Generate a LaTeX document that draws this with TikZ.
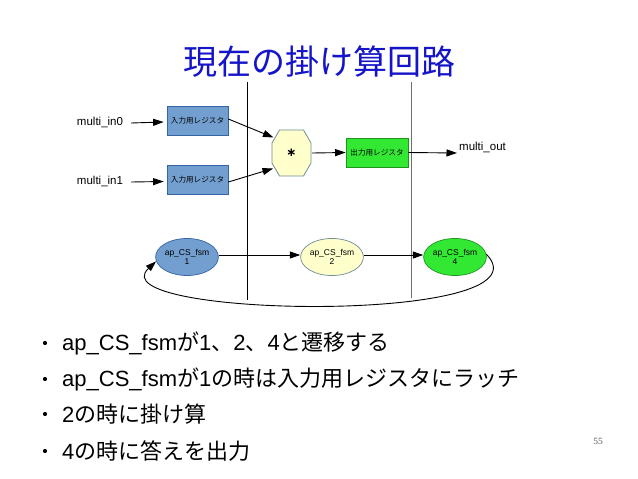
\documentclass[tikz,border=0pt]{standalone}
\usepackage{fontspec}
\setmainfont{Liberation Sans}
\newfontfamily\jp{Noto Sans CJK JP}
\newfontfamily\pgnum{Liberation Serif}
\newfontfamily\dvs{DejaVu Sans}
\usetikzlibrary{arrows.meta,calc,shapes.geometric}
\definecolor{titleblue}{RGB}{20,20,200}
\definecolor{regblue}{RGB}{114,159,207}
\definecolor{regblueb}{RGB}{52,101,164}
\definecolor{lyellow}{RGB}{255,255,204}
\definecolor{yellowb}{RGB}{110,140,150}
\definecolor{lgreen}{RGB}{51,232,51}
\definecolor{greenb}{RGB}{30,150,30}
\definecolor{vgray}{RGB}{110,110,110}
\tikzset{
  arr/.style={line width=0.9pt,-{Triangle[length=10.5pt,width=7pt]}},
  reg/.style={draw=regblueb,fill=regblue,line width=0.7pt,minimum width=61pt,minimum height=29pt,inner sep=0pt,font=\jp\fontsize{7.6}{9}\selectfont},
  oreg/.style={draw=greenb,fill=lgreen,line width=0.7pt,minimum width=62pt,minimum height=29pt,inner sep=0pt,font=\jp\fontsize{7.6}{9}\selectfont},
  sig/.style={font=\fontsize{11.5}{13}\selectfont,inner sep=0pt},
  st/.style={ellipse,line width=0.7pt,minimum width=62pt,minimum height=37pt,inner sep=0pt,align=center,font=\fontsize{8.5}{9}\selectfont},
  bul/.style={anchor=west,inner sep=0pt,font=\fontsize{22}{26}\selectfont},
  dot/.style={circle,fill=black,inner sep=0pt,minimum size=4.2pt},
}
\begin{document}
\begin{tikzpicture}[x=1pt,y=-1pt]
\useasboundingbox[fill=white] (0,0) rectangle (638,479);
% title
\node[font=\jp\fontsize{34}{40}\selectfont,text=titleblue,inner sep=0pt] (title) at (319,62) {現在の掛け算回路};
% vertical separators
\coordinate (v1t) at (247,82); \coordinate (v1b) at (247,300);
\coordinate (v2t) at (411,82); \coordinate (v2b) at (411,298);
\draw[line width=1pt,black] (v1t) -- (v1b);
\draw[line width=1pt,vgray] (v2t) -- (v2b);
% inputs
\node[sig] (in0) at (100,122) {multi\_in0};
\node[sig] (in1) at (100,181) {multi\_in1};
\node[reg] (r0) at (197.5,120.5) {入力用レジスタ};
\node[reg] (r1) at (197.5,180) {入力用レジスタ};
\draw[arr] ($(in0.east)+(8,1)$) -- ($(r0.west)+(-3,1.5)$);
\draw[arr] ($(in1.east)+(8,1)$) -- ($(r1.west)+(-3,1.5)$);
% multiplier octagon
\draw[draw=yellowb,fill=lyellow,line width=0.8pt]
  (279.5,130) -- (303.5,130) -- (311,143) -- (311,163) --
  (303.5,176) -- (279.5,176) -- (272,163) -- (272,143) -- cycle;
\node[inner sep=0pt,minimum width=39pt,minimum height=46pt,font=\dvs\bfseries\fontsize{12}{12}\selectfont] (mul) at (291.5,153) {∗};
\draw[arr] ($(r0.east)+(0,-1.5)$) -- (273.5,137.5);
\draw[arr] ($(r1.east)+(0,2)$) -- (273,168.5);
% output register
\node[oreg] (r2) at (377,152.5) {出力用レジスタ};
\draw[arr] ($(mul.east)+(1,0)$) -- (r2.west);
\node[sig,anchor=west] (out) at (459,147) {multi\_out};
\draw[arr] (r2.east) -- ($(out.west)+(-2,6)$);
% FSM states
\node[st,draw=regblueb,fill=regblue] (s1) at (187,257) {ap\_CS\_fsm\\1};
\node[st,draw=yellowb,fill=lyellow] (s2) at (332,257) {ap\_CS\_fsm\\2};
\node[st,draw=greenb,fill=lgreen] (s4) at (455,257) {ap\_CS\_fsm\\4};
\draw[arr] ($(s1.east)+(0,-2)$) -- ($(s2.west)+(0,-2)$);
\draw[arr] ($(s2.east)+(0,-2)$) -- ($(s4.west)+(0,-2)$);
\draw[arr] (s4.5) .. controls (555,325) and (95,318) .. (s1.188);
% bullets
\node[dot] (d1) at (45,343) {};
\node[dot] (d2) at (45,379) {};
\node[dot] (d3) at (45,414) {};
\node[dot] (d4) at (45,451) {};
\node[bul] (t1) at (62,343) {ap\_CS\_fsm{\jp が}1{\jp 、}2{\jp 、}4{\jp と遷移する}};
\node[bul] (t2) at (62,379) {ap\_CS\_fsm{\jp が}1{\jp の時は入力用レジスタにラッチ}};
\node[bul] (t3) at (62,414) {2{\jp の時に掛け算}};
\node[bul] (t4) at (62,451) {4{\jp の時に答えを出力}};
% page number
\node[font=\pgnum\fontsize{9.5}{10}\selectfont,text=black!65,inner sep=0pt] (pg) at (598,441) {55};
\end{tikzpicture}
\end{document}
